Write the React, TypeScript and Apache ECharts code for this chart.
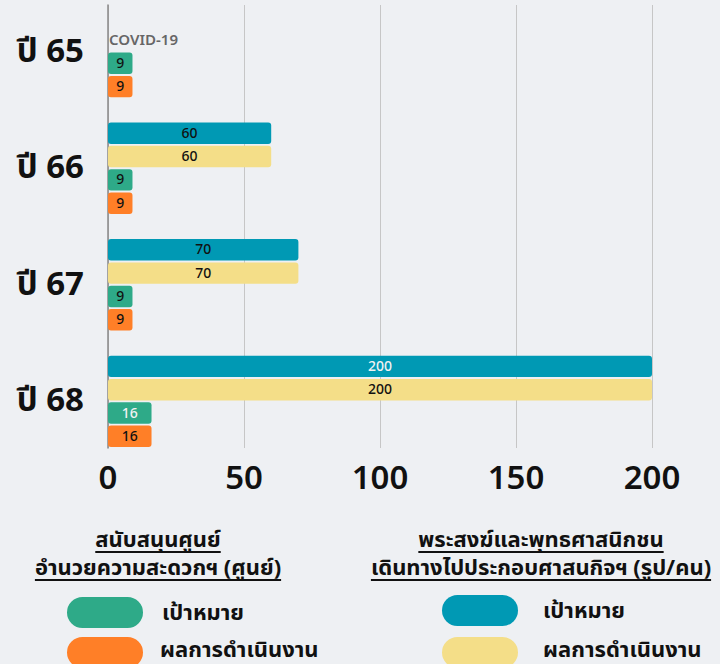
import React, { useEffect, useRef } from "react";
import * as echarts from "echarts";

const years = ["ปี 65", "ปี 66", "ปี 67", "ปี 68"];
const monksTarget: (number | null)[] = [null, 60, 70, 200];
const monksResult: (number | null)[] = [null, 60, 70, 200];
const centersTarget: (number | null)[] = [9, 9, 9, 16];
const centersResult: (number | null)[] = [9, 9, 9, 16];
const xMin = 0;
const xMax = 200;
const xInterval = 50;
const yearNotes = ["COVID-19", "", "", ""];
const legendLeftTitle = ["สนับสนุนศูนย์", "อำนวยความสะดวกฯ (ศูนย์)"];
const legendRightTitle = ["พระสงฆ์และพุทธศาสนิกชน", "เดินทางไปประกอบศาสนกิจฯ (รูป/คน)"];
const legendTarget = "เป้าหมาย";
const legendResult = "ผลการดำเนินงาน";
// which labels are drawn light (white) on their bar
const lightMonksTarget = [false, false, false, true];
const lightCentersTarget = [false, false, false, true];

const FONT = "'Noto Sans Thai', 'Noto Sans', 'DejaVu Sans', sans-serif";
const C_BLUE = "#0099b4";
const C_YELLOW = "#f4de88";
const C_GREEN = "#2eaa88";
const C_ORANGE = "#ff7f27";
const BG = "#eef0f3";

const SLOTS_PER_YEAR = 5;
const nSlots = years.length * SLOTS_PER_YEAR - 1;
const slotNames = Array.from({ length: nSlots }, (_, i) => "s" + i);

function placeSeries(vals: (number | null)[], offset: number, light?: boolean[]) {
  const arr: any[] = slotNames.map(() => "-");
  vals.forEach((v, i) => {
    if (v === null || v === undefined) return;
    const item: any = { value: v };
    if (light && light[i]) item.label = { color: "#f2f2f2" };
    arr[i * SLOTS_PER_YEAR + offset] = item;
  });
  return arr;
}

function measure(text: string, font: string) {
  const c = document.createElement("canvas").getContext("2d")!;
  c.font = font;
  return c.measureText(text).width;
}

export default function App() {
  const ref = useRef<HTMLDivElement>(null);
  useEffect(() => {
    document.body.style.margin = "0";
    const chart = echarts.init(ref.current!, null, { renderer: "svg" });
    const barBase = {
      type: "bar",
      barGap: "-100%",
      barCategoryGap: "8%",
      itemStyle: { borderRadius: 3 },
      label: {
        show: true,
        position: "inside",
        color: "#111",
        fontSize: 14,
        fontWeight: 500,
        fontFamily: FONT,
      },
    };
    chart.setOption({
      animation: false,
      backgroundColor: BG,
      textStyle: { fontFamily: FONT },
      grid: { left: 108, right: 68, top: 5, bottom: 216, containLabel: false },
      xAxis: {
        type: "value",
        min: xMin,
        max: xMax,
        interval: xInterval,
        axisLine: { show: false },
        axisTick: { show: false },
        splitLine: { lineStyle: { color: "#c6c6c6", width: 1 } },
        axisLabel: { fontSize: 33, fontWeight: 600, color: "#111", margin: 14, fontFamily: FONT },
      },
      yAxis: {
        type: "category",
        inverse: true,
        data: slotNames,
        axisLine: { show: true, lineStyle: { color: "#888", width: 1.5 } },
        axisTick: { show: false },
        axisLabel: { show: false },
        splitLine: { show: false },
      },
      series: [
        { ...barBase, name: "monksTarget", data: placeSeries(monksTarget, 0, lightMonksTarget), itemStyle: { ...barBase.itemStyle, color: C_BLUE } },
        { ...barBase, name: "monksResult", data: placeSeries(monksResult, 1), itemStyle: { ...barBase.itemStyle, color: C_YELLOW } },
        { ...barBase, name: "centersTarget", data: placeSeries(centersTarget, 2, lightCentersTarget), itemStyle: { ...barBase.itemStyle, color: C_GREEN } },
        { ...barBase, name: "centersResult", data: placeSeries(centersResult, 3), itemStyle: { ...barBase.itemStyle, color: C_ORANGE } },
      ],
    });

    const graphics: any[] = [];
    const x0 = chart.convertToPixel({ xAxisIndex: 0 }, 0) as number;
    years.forEach((y, i) => {
      const a = chart.convertToPixel({ yAxisIndex: 0 }, slotNames[i * SLOTS_PER_YEAR + 1]) as number;
      const b = chart.convertToPixel({ yAxisIndex: 0 }, slotNames[i * SLOTS_PER_YEAR + 2]) as number;
      graphics.push({
        type: "text",
        x: x0 - 24,
        y: (a + b) / 2,
        style: { text: y, font: `bold 33px ${FONT}`, fill: "#111", align: "right", verticalAlign: "middle" },
      });
      if (yearNotes[i]) {
        graphics.push({
          type: "text",
          x: x0 + 1,
          y: a + 1,
          style: { text: yearNotes[i], font: `600 15px ${FONT}`, fill: "#666", align: "left", verticalAlign: "middle" },
        });
      }
    });

    const titleFont = `bold 22px ${FONT}`;
    const addTitle = (lines: string[], cx: number) => {
      lines.forEach((t, k) => {
        const ty = 540 + k * 28;
        const w = measure(t, titleFont);
        graphics.push({ type: "text", x: cx, y: ty, style: { text: t, font: titleFont, lineHeight: 24, fill: "#111", align: "center", verticalAlign: "middle" } });
        graphics.push({ type: "line", shape: { x1: cx - w / 2, y1: ty + 12, x2: cx + w / 2, y2: ty + 12 }, style: { stroke: "#111", lineWidth: 2 } });
      });
    };
    addTitle(legendLeftTitle, 158);
    addTitle(legendRightTitle, 541);

    const itemFont = `bold 22px ${FONT}`;
    const addItem = (px: number, py: number, color: string, text: string, tx: number, ty: number) => {
      graphics.push({ type: "rect", shape: { x: px, y: py, width: 76, height: 31, r: 15.5 }, style: { fill: color } });
      graphics.push({ type: "text", x: tx, y: ty, style: { text, font: itemFont, lineHeight: 22, fill: "#111", align: "left", verticalAlign: "middle" } });
    };
    addItem(67, 597, C_GREEN, legendTarget, 162, 613);
    addItem(67, 637, C_ORANGE, legendResult, 160, 650);
    addItem(442, 595, C_BLUE, legendTarget, 543, 611);
    addItem(442, 637, C_YELLOW, legendResult, 543, 650);

    chart.setOption({ graphic: graphics });
    return () => chart.dispose();
  }, []);
  return <div ref={ref} style={{ width: 720, height: 664 }} />;
}
